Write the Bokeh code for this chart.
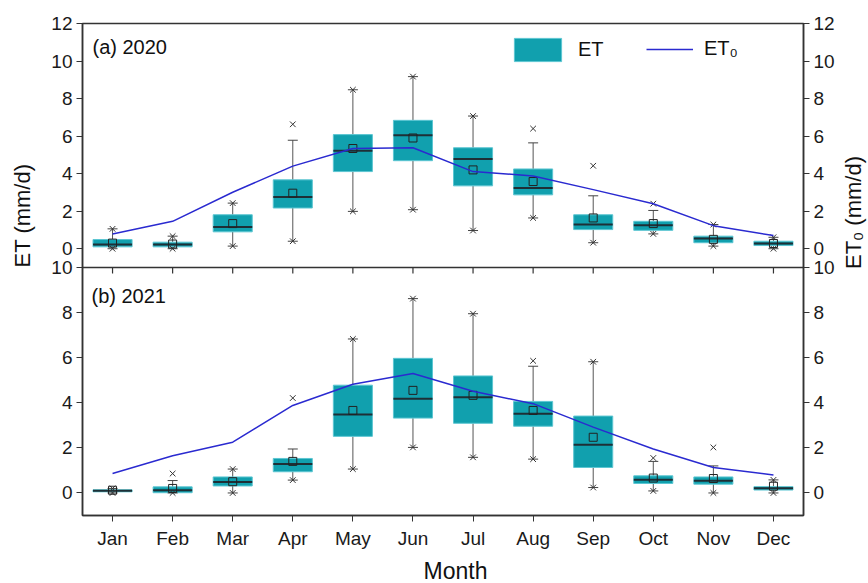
import math
from bokeh.plotting import figure
from bokeh.layouts import row, column
from bokeh.models import (Range1d, FactorRange, FixedTicker, LinearAxis, Span,
                          Label, Legend, LegendItem, ColumnDataSource)
from bokeh.embed import file_html
from bokeh.resources import INLINE

# ---------------- data ----------------
months = ["Jan", "Feb", "Mar", "Apr", "May", "Jun", "Jul", "Aug", "Sep", "Oct", "Nov", "Dec"]

# 2020
et20_q1 = [0.10, 0.10, 0.90, 2.17, 4.11, 4.69, 3.35, 2.87, 1.02, 0.98, 0.32, 0.17]
et20_q3 = [0.49, 0.35, 1.81, 3.67, 6.08, 6.84, 5.38, 4.25, 1.81, 1.46, 0.67, 0.40]
et20_med = [0.23, 0.23, 1.16, 2.75, 5.22, 6.05, 4.78, 3.23, 1.29, 1.25, 0.54, 0.28]
et20_mean = [0.30, 0.25, 1.34, 2.96, 5.34, 5.90, 4.20, 3.58, 1.64, 1.34, 0.50, 0.28]
et20_whi = [1.06, 0.67, 2.43, 5.78, 8.47, 9.17, 7.07, 5.64, 2.82, 2.04, 1.29, 0.61]
et20_wlo = [0.00, 0.00, 0.14, 0.40, 1.99, 2.08, 0.97, 1.64, 0.32, 0.79, 0.14, 0.00]
et20_max = [1.06, 0.67, 2.43, 6.63, 8.47, 9.17, 7.07, 6.40, 4.42, 2.40, 1.29, 0.61]
et20_min = [0.00, 0.00, 0.14, 0.40, 1.99, 2.08, 0.97, 1.64, 0.32, 0.79, 0.14, 0.00]
et0_20 = [0.79, 1.46, 3.01, 4.40, 5.34, 5.38, 4.11, 3.88, 3.15, 2.40, 1.23, 0.70]

# 2021
et21_q1 = [0.05, 0.01, 0.31, 0.94, 2.51, 3.32, 3.09, 2.96, 1.13, 0.42, 0.39, 0.13]
et21_q3 = [0.14, 0.27, 0.71, 1.53, 4.78, 5.97, 5.19, 4.06, 3.41, 0.76, 0.71, 0.28]
et21_med = [0.10, 0.12, 0.49, 1.28, 3.48, 4.18, 4.25, 3.51, 2.14, 0.59, 0.54, 0.21]
et21_mean = [0.12, 0.20, 0.50, 1.40, 3.66, 4.55, 4.33, 3.66, 2.47, 0.66, 0.64, 0.30]
et21_whi = [0.20, 0.55, 1.06, 1.95, 6.83, 8.62, 7.95, 5.62, 5.82, 1.40, 1.20, 0.58]
et21_wlo = [0.00, 0.00, 0.00, 0.57, 1.06, 2.02, 1.58, 1.50, 0.24, 0.09, 0.00, 0.00]
et21_max = [0.20, 0.86, 1.06, 4.21, 6.83, 8.62, 7.95, 5.86, 5.82, 1.55, 2.02, 0.58]
et21_min = [0.00, 0.00, 0.00, 0.57, 1.06, 2.02, 1.58, 1.50, 0.24, 0.09, 0.00, 0.00]
et0_21 = [0.86, 1.65, 2.25, 3.88, 4.82, 5.30, 4.51, 3.96, 2.92, 1.95, 1.13, 0.80]

top_ticks = [0, 2, 4, 6, 8, 10, 12]
bot_ticks = [0, 2, 4, 6, 8, 10]

# ---------------- layout constants ----------------
FONT = "Liberation Sans"
W, H = 868, 583
SIDE_L, SIDE_R, STRIP_B = 40, 30, 30
MAIN_H = H - STRIP_B
TOP_MIN, TOP_MAX = -1, 12
BOT_MIN, BOT_MAX = -1, 10
TOP_PX, BOT_PX = 244, 248
FRAME_H = TOP_PX + BOT_PX
BOX_W = 0.65
TEAL = "#11A0AE"
BLUE = "#2A2AD0"
DARK = "#333333"

main_per_px = (BOT_MAX - BOT_MIN) / BOT_PX
top_per_px = (TOP_MAX - TOP_MIN) / TOP_PX


def top_to_main(v):
    return BOT_MAX + (v - TOP_MIN) / top_per_px * main_per_px


p = figure(width=W - SIDE_L - SIDE_R, height=MAIN_H,
           x_range=FactorRange(*months, range_padding=0),
           y_range=Range1d(BOT_MIN, BOT_MIN + FRAME_H * main_per_px),
           output_backend="svg", toolbar_location=None,
           min_border_left=82 - SIDE_L, min_border_right=35,
           min_border_top=23, min_border_bottom=MAIN_H - 23 - FRAME_H)
p.extra_y_ranges = {"top": Range1d(TOP_MAX - FRAME_H * top_per_px, TOP_MAX)}
p.xgrid.visible = False
p.ygrid.visible = False
p.outline_line_color = DARK
p.outline_line_width = 1.5
p.background_fill_color = "white"
p.border_fill_color = "white"

# y ticks (both panels on one axis)
tick_pos = [float(t) for t in bot_ticks] + [top_to_main(t) for t in top_ticks]
tick_lab = {float(t): str(t) for t in bot_ticks}
for t in top_ticks:
    tick_lab[top_to_main(t)] = str(t)

right_axis = LinearAxis()
p.add_layout(right_axis, "right")
for ax in (p.yaxis[0], right_axis):
    ax.ticker = FixedTicker(ticks=tick_pos)
    ax.major_label_overrides = tick_lab
    ax.minor_tick_line_color = None
    ax.major_tick_out = 6
    ax.major_tick_in = 0
    ax.major_tick_line_color = DARK
    ax.axis_line_color = DARK
    ax.axis_line_width = 1.5
    ax.major_label_text_font = FONT
    ax.major_label_text_font_size = "19px"
    ax.major_label_text_color = "#1a1a1a"
    ax.major_label_standoff = 4

xa = p.xaxis[0]
xa.major_tick_out = 6
xa.major_tick_in = 0
xa.major_tick_line_color = DARK
xa.axis_line_color = DARK
xa.axis_line_width = 1.5
xa.major_label_text_font = FONT
xa.major_label_text_font_size = "19px"
xa.major_label_text_color = "#1a1a1a"
xa.major_label_standoff = 6

# boundary between panels
p.add_layout(Span(location=BOT_MAX, dimension="width", line_color=DARK, line_width=1.5))
p.segment(x0=months, x1=months, y0=[BOT_MAX] * 12, y1=[BOT_MAX - 6 * main_per_px] * 12,
          line_color=DARK, line_width=1.2)


def draw(q1, q3, med, mean, whi, wlo, mx, mn, et0, range_name=None):
    kw = {} if range_name is None else {"y_range_name": range_name}
    src = ColumnDataSource(dict(m=months, q1=q1, q3=q3, med=med, mean=mean,
                                whi=whi, wlo=wlo, mx=mx, mn=mn, et0=et0))
    p.segment(x0="m", x1="m", y0="q3", y1="whi", source=src, line_color="#555555", line_width=1, **kw)
    p.segment(x0="m", x1="m", y0="q1", y1="wlo", source=src, line_color="#555555", line_width=1, **kw)
    box = p.vbar(x="m", width=BOX_W, bottom="q1", top="q3", source=src,
                 fill_color=TEAL, line_color="#5CC6D2", line_width=1, **kw)
    p.rect(x="m", y="med", width=BOX_W, height=2, height_units="screen", source=src,
           fill_color="#1E2F36", line_color=None, **kw)
    p.scatter(x="m", y="whi", marker="dash", size=10, source=src, line_color="#444444", line_width=1, **kw)
    p.scatter(x="m", y="wlo", marker="dash", size=10, source=src, line_color="#444444", line_width=1, **kw)
    p.scatter(x="m", y="mx", marker="x", size=8, source=src, line_color="#333333", line_width=1, **kw)
    p.scatter(x="m", y="mn", marker="x", size=8, source=src, line_color="#333333", line_width=1, **kw)
    p.scatter(x="m", y="mean", marker="square", size=8, source=src, fill_color=None,
              line_color="#222222", line_width=1, **kw)
    ln = p.line(x="m", y="et0", source=src, line_color=BLUE, line_width=1.5, **kw)
    return box, ln


box20, line20 = draw(et20_q1, et20_q3, et20_med, et20_mean, et20_whi, et20_wlo,
                     et20_max, et20_min, et0_20, range_name="top")
box21, line21 = draw(et21_q1, et21_q3, et21_med, et21_mean, et21_whi, et21_wlo,
                     et21_max, et21_min, et0_21)

# legends
for items, loc, gw, gh in (([LegendItem(label="ET", renderers=[box20])], (426, 451), 59, 29),
                           ([LegendItem(label="ET\u2080", renderers=[line20])], (564, 455), 47, 20)):
    lg = Legend(items=items, location=loc, orientation="horizontal",
                glyph_width=gw, glyph_height=gh, label_standoff=11,
                label_text_font=FONT, label_text_font_size="20px", label_text_color="#111111",
                border_line_color=None, background_fill_alpha=0, padding=0, margin=0, spacing=0)
    p.add_layout(lg)

# panel labels (inside the frame)
for text, x, y in (("(a) 2020", 10, 469), ("(b) 2021", 9, 220)):
    p.add_layout(Label(x=x, y=y, x_units="screen", y_units="screen", text=text,
                       text_font=FONT, text_font_size="20px", text_color="#111111",
                       text_align="left", text_baseline="middle"))


# strips holding the axis titles
def strip(width, height, text, cx, cy, angle, size):
    s = figure(width=width, height=height, output_backend="svg", toolbar_location=None,
               x_range=Range1d(0, 1), y_range=Range1d(0, 1), min_border=0)
    s.axis.visible = False
    s.grid.visible = False
    s.outline_line_color = None
    s.add_layout(Label(x=cx, y=cy, x_units="screen", y_units="screen", text=text,
                       angle=angle, text_font=FONT, text_font_size=size,
                       text_color="#111111", text_align="center", text_baseline="middle"))
    return s


left_strip = strip(SIDE_L, MAIN_H, "ET (mm/d)", 22, MAIN_H - 253, math.pi / 2, "22px")
right_strip = strip(SIDE_R, MAIN_H, "ET\u2080 (mm/d)", 853 - (W - SIDE_R), MAIN_H - 250, math.pi / 2, "22px")
bottom_strip = strip(W, STRIP_B, "Month", 455, H - 570, 0, "23px")

layout = column(row(left_strip, p, right_strip), bottom_strip)
open("out.html", "w").write(file_html(layout, INLINE))
